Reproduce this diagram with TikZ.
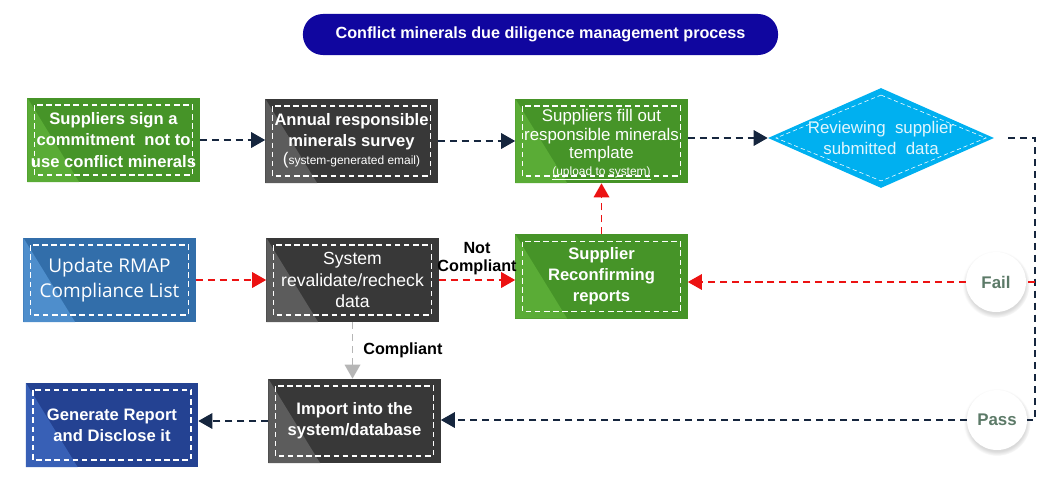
\documentclass[tikz,border=0pt]{standalone}
\usepackage{fontspec}
\setmainfont{Liberation Sans}
\newfontfamily\rmapfont{Open Sans}
\usetikzlibrary{shapes.geometric, arrows.meta, calc, shadows}

\definecolor{titleblue}{RGB}{16,6,159}
\definecolor{leafgreen}{RGB}{70,148,40}
\definecolor{leaflight}{RGB}{90,172,54}
\definecolor{coal}{RGB}{56,56,56}
\definecolor{coallight}{RGB}{92,92,92}
\definecolor{steelblue}{RGB}{50,110,170}
\definecolor{steellight}{RGB}{78,142,204}
\definecolor{deepblue}{RGB}{36,66,146}
\definecolor{deeplight}{RGB}{56,96,182}
\definecolor{skyblue}{RGB}{0,176,240}
\definecolor{inkblue}{RGB}{22,38,62}
\definecolor{alertred}{RGB}{236,18,18}
\definecolor{softgray}{RGB}{182,182,182}
\definecolor{sagegreen}{RGB}{92,122,104}

\begin{document}
\begin{tikzpicture}[
      x=0.025cm, y=-0.025cm,
      box/.style={rectangle, minimum width=4.3cm, minimum height=2.1cm, inner sep=1pt,
        align=center, text=white, font=\fontsize{12.5}{15}\selectfont,
        path picture={
          \fill[#1] (path picture bounding box.north west) -- (path picture bounding box.south west)
            -- ($(path picture bounding box.south west)!0.3!(path picture bounding box.south east)$) -- cycle;
          \draw[white, line width=1.1pt, dash pattern=on 4pt off 2.5pt]
            ([shift={(5pt,-5pt)}]path picture bounding box.north west) rectangle
            ([shift={(-5pt,5pt)}]path picture bounding box.south east);}},
      greenbox/.style={box=leaflight, fill=leafgreen},
      graybox/.style={box=coallight, fill=coal},
      bluebox/.style={box=steellight, fill=steelblue},
      navybox/.style={box=deeplight, fill=deepblue},
      heavy/.style={font=\fontsize{11.8}{15}\selectfont\bfseries},
      decision/.style={diamond, aspect=2.26, fill=skyblue, minimum width=5.65cm, minimum height=2.5cm,
        inner sep=0pt, align=center, text=white!88!skyblue, font=\fontsize{12}{15}\selectfont,
        path picture={
          \draw[white, thin, dash pattern=on 3pt off 2pt]
            ($(path picture bounding box.center)!0.86!(path picture bounding box.north)$) --
            ($(path picture bounding box.center)!0.93!(path picture bounding box.east)$) --
            ($(path picture bounding box.center)!0.86!(path picture bounding box.south)$) --
            ($(path picture bounding box.center)!0.93!(path picture bounding box.west)$) -- cycle;}},
      title/.style={rectangle, rounded corners=0.5cm, fill=titleblue, text=white,
        minimum width=11.875cm, minimum height=1.025cm, font=\fontsize{11.5}{14}\selectfont\bfseries},
      badge/.style={circle, fill=white, minimum size=1.5cm, inner sep=0pt, text=sagegreen,
        font=\fontsize{12}{14}\selectfont\bfseries,
        circular drop shadow={shadow xshift=0pt, shadow yshift=-1.5pt, shadow scale=1.12, opacity=0.3}},
      link/.style={line width=1.4pt, dash pattern=on 5pt off 3.5pt},
      navyline/.style={link, inkblue},
      navyarrow/.style={navyline, -{Triangle[length=10pt,width=11pt]}},
      redline/.style={link, alertred},
      redarrow/.style={redline, -{Triangle[length=10pt,width=11pt]}},
      grayarrow/.style={link, softgray, -{Triangle[length=10pt,width=11pt]}},
      label/.style={font=\fontsize{11.5}{13}\selectfont\bfseries, text=black, align=center, inner sep=1pt}
    ]

    \useasboundingbox (0,0) rectangle (1064,478);

    % Title
    \node[title] (head) at (540.5,34.5) {Conflict minerals due diligence management process};

    % Top row
    \node[greenbox, heavy] (sign) at (113.5,140) {Suppliers sign a\\commitment~ not to\\use conflict minerals};
    \node[graybox, heavy] (survey) at (351.5,141) {Annual responsible\\minerals survey\\[-2pt]{\fontsize{12}{12}\selectfont\mdseries(}{\fontsize{8.5}{10}\selectfont\mdseries system-generated email)}};
    \node[greenbox, font=\fontsize{12}{13}\selectfont] (fill) at (601.5,141) {};
    \node[align=center, text=white, inner sep=0pt, font=\fontsize{12}{13}\selectfont] (filltext) at (601.5,145)
      {Suppliers fill out\\responsible minerals\\template\\[-1pt]{\fontsize{8.5}{10}\selectfont\underline{(upload to system)}}};
    \node[decision] (review) at (881,138) {Reviewing~ supplier\\submitted~ data};

    % Middle row
    \node[bluebox, font=\rmapfont\fontsize{13.5}{18}\selectfont] (rmap) at (109.5,280) {Update RMAP\\Compliance List};
    \node[graybox] (recheck) at (352.5,280) {System\\revalidate/recheck\\data};
    \node[greenbox, heavy] (reconfirm) at (601.5,276.5) {Supplier\\Reconfirming\\reports};
    \node[badge] (fail) at (996,282) {Fail};

    % Bottom row
    \node[navybox, heavy] (report) at (112,425) {Generate Report\\and Disclose it};
    \node[graybox, heavy] (import) at (354.5,421) {Import into the\\system/database};
    \node[badge] (pass) at (997,420) {Pass};

    \coordinate (corner) at (1035,420);

    % Main flow
    \draw[navyarrow] (sign.east) -- (sign.east -| survey.west);
    \draw[navyarrow] (survey.east) -- (survey.east -| fill.west);
    \draw[navyarrow] (fill.east |- review.west) -- (review.west);
    \draw[navyline, shorten <=10pt] (review.east) -- (review.east -| corner) -- (corner) -- (pass.east);
    \draw[navyarrow] (pass.west) -- (pass.west -| import.east);
    \draw[navyarrow] (import.west) -- (import.west -| report.east);

    % Fail loop
    \draw[redline] (fail.east -| corner) -- (fail.east);
    \draw[redarrow] (fail.west) -- (fail.west -| reconfirm.east);
    \draw[redarrow] (reconfirm.north) -- (reconfirm.north |- fill.south);

    % Recheck
    \draw[redarrow] (rmap.east) -- (rmap.east -| recheck.west);
    \draw[redarrow] (recheck.east) -- (recheck.east -| reconfirm.west)
      node[label, midway, above=2pt] (notok) {Not\\Compliant};
    \draw[grayarrow] (recheck.south) -- (recheck.south |- import.north)
      node[label, midway, right=6pt] (okay) {Compliant};

  \end{tikzpicture}
\end{document}
